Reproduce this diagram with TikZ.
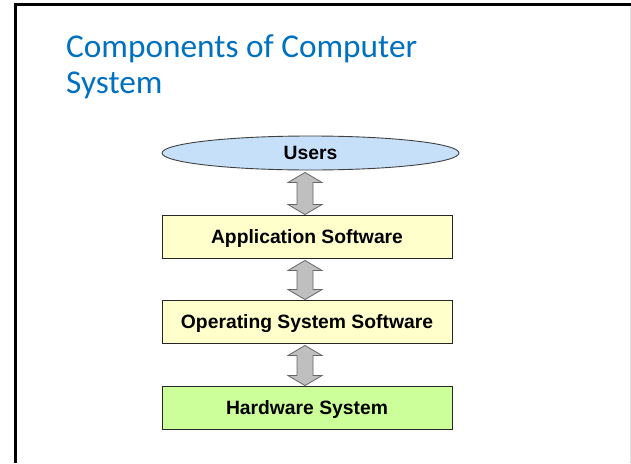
\documentclass[tikz,border=0pt]{standalone}
\usepackage{fontspec}
\setmainfont{Liberation Sans}
\newfontfamily\headfont{Carlito}
\usetikzlibrary{shapes.geometric,calc}

\definecolor{headblue}{RGB}{0,112,192}
\definecolor{userblue}{RGB}{198,224,250}
\definecolor{softyellow}{RGB}{255,255,204}
\definecolor{softgreen}{RGB}{204,255,153}

\tikzset{
  layer/.style={draw=black!85, line width=0.9pt, minimum width=290pt, minimum height=43pt,
    inner sep=0pt, text depth=0pt, font=\bfseries\fontsize{19.3}{21}\selectfont},
  twoway/.style={fill=black!25, draw=black!60, line width=0.8pt, line join=miter},
}

\begin{document}
\begin{tikzpicture}[x=1pt, y=-1pt]
    \useasboundingbox (0,0) rectangle (631,463);
    % slide frame
    \draw[line width=2.6pt] (15.5,463) -- (15.5,4.3) -- (631,4.3);
    \draw[black!12, line width=1pt] (630,6) -- (630,463);
    % title
    \node[anchor=base west, inner sep=0pt, text=headblue, font=\headfont\fontsize{33.3}{36}\selectfont] (title) at (66,57) {Components of Computer};
    \node[anchor=base west, inner sep=0pt, text=headblue, font=\headfont\fontsize{33.3}{36}\selectfont] (title2) at (66,93) {System};
    % the layers
    \node[ellipse, draw=black!75, line width=0.9pt, fill=userblue, minimum width=297pt, minimum height=34pt,
      inner sep=0pt, font=\bfseries\fontsize{19.3}{21}\selectfont] (users) at (310.5,153) {Users};
    \node[layer, fill=softyellow] (app) at (307,236.5) {Application Software};
    \node[layer, fill=softyellow] (os) at (307,321.5) {Operating System Software};
    \node[layer, fill=softgreen] (hw) at (307,407.5) {Hardware System};
    % block arrows between layers
    \foreach \a/\b in {users/app, app/os, os/hw} {
      \path (\a.south -| \b.north) ++(-2,2) coordinate (t)
            (\b.north) ++(-2,0) coordinate (b);
      \filldraw[twoway] (t) -- ($(t)+(17,10)$) -- ($(t)+(8,10)$) -- ($(b)+(8,-10)$)
        -- ($(b)+(17,-10)$) -- (b) -- ($(b)+(-17,-10)$) -- ($(b)+(-8,-10)$)
        -- ($(t)+(-8,10)$) -- ($(t)+(-17,10)$) -- cycle;
    }
\end{tikzpicture}
\end{document}
